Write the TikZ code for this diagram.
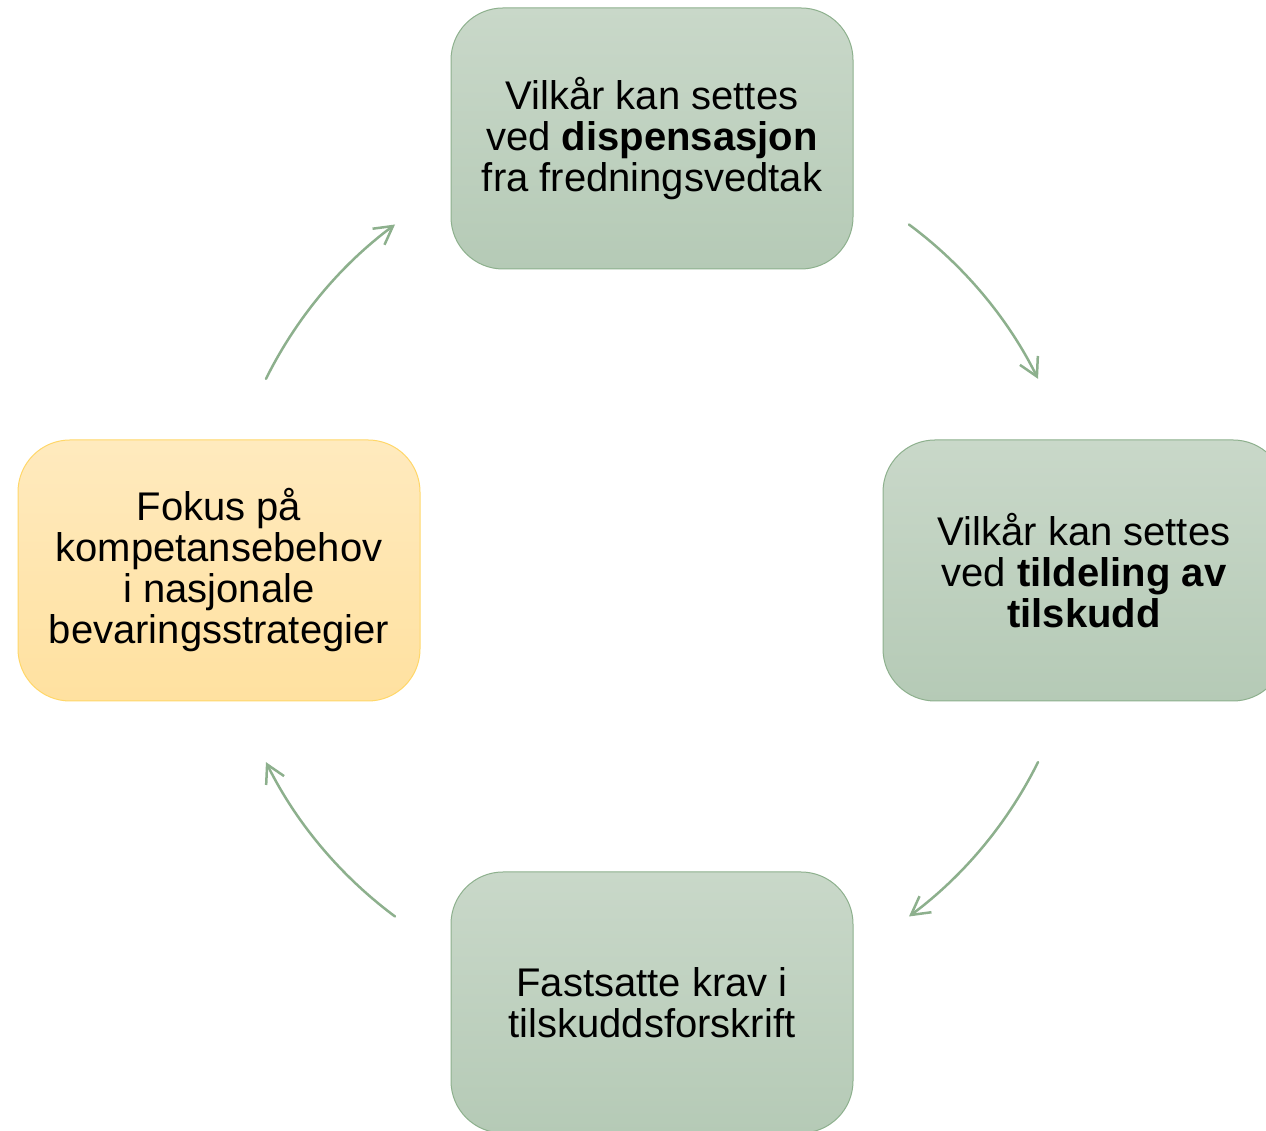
\documentclass[tikz,border=0pt]{standalone}
\usepackage{fontspec}
\setmainfont{Liberation Sans}
\usetikzlibrary{arrows.meta}
\definecolor{greentop}{RGB}{201,216,201}
\definecolor{greenbot}{RGB}{181,202,182}
\definecolor{greenline}{RGB}{141,176,141}
\definecolor{yellowtop}{RGB}{255,234,190}
\definecolor{yellowbot}{RGB}{255,225,160}
\definecolor{yellowline}{RGB}{255,215,105}
\tikzset{
  stepbox/.style={draw=greenline,line width=1pt,top color=greentop,bottom color=greenbot,
    rounded corners=52pt,minimum width=402pt,minimum height=261pt,inner sep=0pt,align=center,
    font=\fontsize{40}{41}\selectfont},
  focusbox/.style={stepbox,draw=yellowline,top color=yellowtop,bottom color=yellowbot},
  flow/.style={draw=greenline,line width=2.5pt,-{Straight Barb[length=18pt,width=20pt]}}
}
\begin{document}
\begin{tikzpicture}[x=1pt,y=1pt,line join=round,line cap=round]
				\useasboundingbox (0,0) rectangle (1266,1131);
				\coordinate (c) at (652,560.5);
				\node[stepbox] (disp) at (652,992.5) {Vilkår kan settes\\ved \textbf{dispensasjon}\\fra fredningsvedtak};
				\node[stepbox] (tilskudd) at (1084,560.5) {Vilkår kan settes\\ved \textbf{tildeling av}\\\textbf{tilskudd}};
				\node[stepbox] (forskrift) at (652,128.5) {Fastsatte krav i\\tilskuddsforskrift};
				\node[focusbox] (fokus) at (219,560.5) {Fokus på\\kompetansebehov\\i nasjonale\\bevaringsstrategier};
				% piler rundt sirkelen
				\foreach \s/\e in {53.4/26.4,-26.4/-53.4,-126.6/-153.6,153.6/126.6}
					\draw[flow] (c) ++(\s:431) arc[start angle=\s,end angle=\e,radius=431];
			\end{tikzpicture}
\end{document}
